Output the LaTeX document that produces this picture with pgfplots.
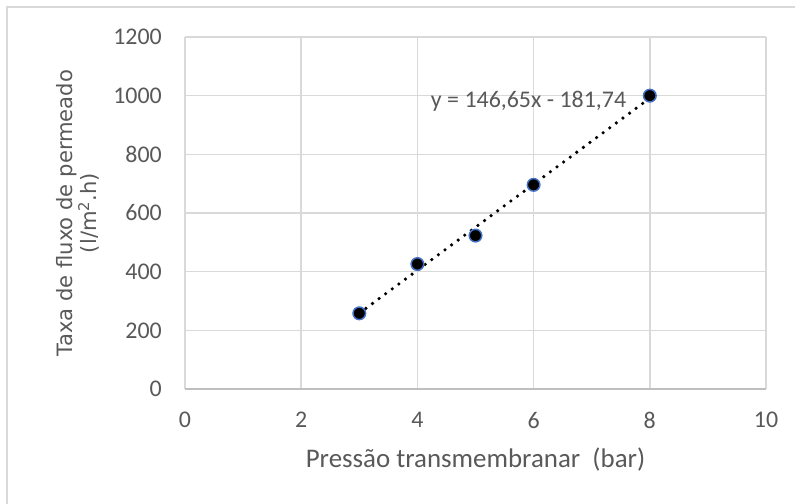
\documentclass[border=0pt]{standalone}
\usepackage{pgfplots}
\pgfplotsset{compat=1.18}
\usepackage{fontspec}
\setmainfont{Carlito}
\newfontfamily\ylabfont{DejaVu Sans}
\definecolor{txt}{HTML}{595959}
\definecolor{gridc}{HTML}{D9D9D9}
\definecolor{axisc}{HTML}{BFBFBF}
\definecolor{edge}{HTML}{4472C4}
\begin{document}
\begin{tikzpicture}
\useasboundingbox (0,0) rectangle (795bp,504bp);
\fill[white] (0,0) rectangle (795bp,504bp);
\draw[gridc, line width=2bp] (7bp,0bp) -- (7bp,497bp) -- (795bp,497bp);
\begin{axis}[
  at={(185bp,115bp)}, anchor=south west,
  scale only axis, width=581bp, height=352bp,
  xmin=0, xmax=10, ymin=0, ymax=1200,
  xtick={0,2,...,10}, ytick={0,200,...,1200},
  axis line style={draw=none},
  major tick length=0pt,
  grid=major,
  major grid style={draw=gridc, line width=1.6bp},
  /pgf/number format/1000 sep={},
  /pgf/number format/assume math mode=true,
  ticklabel style={font=\fontsize{24}{28}\selectfont, text=txt, inner sep=0pt},
  xticklabel shift=23bp,
  yticklabel shift=23bp,
  xlabel={Pressão transmembranar\ \ (bar)},
  xlabel style={font=\fontsize{27}{31}\selectfont, text=txt, inner sep=0pt, anchor=base, at={(axis description cs:0.5,-0.2216)}},
  ylabel={Taxa de fluxo de permeado\\(l/m\textsuperscript{2}.h)},
  ylabel style={font=\fontsize{21.2}{24.5}\selectfont\ylabfont, text=txt, align=center, inner sep=0pt, anchor=south, at={(axis description cs:-0.147,0.5)}},
  clip=false,
]
\draw[axisc, line width=1.8bp] (axis cs:0,0) -- (axis cs:10,0);
\addplot[black, line width=3.6bp, line cap=round, dash pattern=on 0pt off 8.2bp] coordinates {(3,258.21) (8,991.46)};
\addplot[only marks, mark=*, mark size=6.3bp, mark options={fill=black, draw=edge, line width=1.5bp}] coordinates {
(3,258) (4,426) (5,523) (6,696) (8,1000)};
\node[anchor=base west, text=txt, inner sep=0pt, font=\fontsize{24}{28}\selectfont] at (axis cs:4.23,960) {y = 146,65x - 181,74};
\end{axis}
\end{tikzpicture}
\end{document}
